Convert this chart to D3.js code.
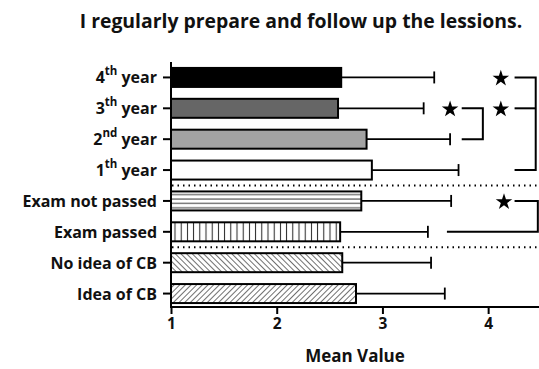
<!DOCTYPE html>
<html>
<head>
<meta charset="utf-8">
<script src="https://cdn.jsdelivr.net/npm/d3@7"></script>
<style>
  html, body { margin: 0; padding: 0; background: #fff; }
  svg { display: block; font-family: "Open Sans", Lato, sans-serif; font-weight: bold; }
</style>
</head>
<body>
<svg id="chart" width="539" height="369"></svg>
<script>
// Groups (top to bottom), with ordinal number and superscript suffix where used
const groups     = ["4th year", "3rd year", "2nd year", "1th year", "Exam not passed", "Exam passed", "No idea of CB", "Idea of CB"];
const labelMain  = ["4", "3", "2", "1", "Exam not passed", "Exam passed", "No idea of CB", "Idea of CB"];
const labelSup   = ["th", "th", "nd", "th", "", "", "", ""];
const labelTail  = [" year", " year", " year", " year", "", "", "", ""];
const means      = [2.61, 2.58, 2.85, 2.90, 2.80, 2.60, 2.62, 2.75];
const sds        = [0.88, 0.81, 0.79, 0.82, 0.85, 0.83, 0.84, 0.84];
const fills      = ["solid-black", "solid-dark", "solid-light", "solid-white", "hlines", "vlines", "diag-back", "diag-fwd"];
const xTicks     = [1, 2, 3, 4];
// Significance brackets: rows joined, bracket x extent, star position (in axis units)
const brackets   = [
  { from: 0, to: 3, x0: 4.25, x1: 4.45, star: 4.12 },
  { from: 1, to: 2, x0: 3.75, x1: 3.95, star: 3.64 },
  { from: 4, to: 5, x0: 4.25, x1: 4.47, star: 4.15, bottomStart: 3.61 }
];
const extraLinks = [ { row: 1, x0: 4.25, x1: 4.45, star: 4.12 } ];
const separators = [3.5, 5.5]; // between row indices

const svg = d3.select("#chart");
const W = 539, H = 369;

const x = d3.scaleLinear().domain([1, 4.5]).range([171, 541]);
const y = d3.scaleBand().domain(d3.range(groups.length)).range([62, 309]).paddingInner(0.32).paddingOuter(0.16);

// Hatch patterns
const defs = svg.append("defs");
const hp = defs.append("pattern").attr("id", "hlines").attr("patternUnits", "userSpaceOnUse")
  .attr("width", 8).attr("height", 4.4);
hp.append("rect").attr("width", 8).attr("height", 4.4).attr("fill", "#fff");
hp.append("line").attr("x1", 0).attr("x2", 8).attr("y1", 1).attr("y2", 1).attr("stroke", "#333").attr("stroke-width", 1);

const vp = defs.append("pattern").attr("id", "vlines").attr("patternUnits", "userSpaceOnUse")
  .attr("width", 6.2).attr("height", 8).attr("x", 171);
vp.append("rect").attr("width", 6.2).attr("height", 8).attr("fill", "#fff");
vp.append("line").attr("x1", 4).attr("x2", 4).attr("y1", 0).attr("y2", 8).attr("stroke", "#222").attr("stroke-width", 1);

function diag(id, angle) {
  const p = defs.append("pattern").attr("id", id).attr("patternUnits", "userSpaceOnUse")
    .attr("width", 4).attr("height", 4).attr("patternTransform", `rotate(${angle})`);
  p.append("rect").attr("width", 4).attr("height", 4).attr("fill", "#fff");
  p.append("line").attr("x1", 0).attr("x2", 0).attr("y1", 0).attr("y2", 4).attr("stroke", "#222").attr("stroke-width", 1.3);
}
diag("diag-back", -45);
diag("diag-fwd", 45);

const fillOf = f => ({
  "solid-black": "#000", "solid-dark": "#666", "solid-light": "#a3a3a3", "solid-white": "#fff"
}[f] || `url(#${f})`);

// Title
svg.append("text").attr("x", 301).attr("y", 28).attr("text-anchor", "middle")
  .attr("font-size", 19.4).attr("fill", "#111").text("I regularly prepare and follow up the lessions.");

// Dotted separators
separators.forEach(s => {
  const yy = y(Math.floor(s)) + y.bandwidth() + (y.step() - y.bandwidth()) / 2;
  svg.append("line").attr("x1", 172).attr("x2", W).attr("y1", yy).attr("y2", yy)
    .attr("stroke", "#000").attr("stroke-width", 2).attr("stroke-dasharray", "1.5,4");
});

// Error bars (upper whisker only)
const eb = svg.append("g").attr("stroke", "#000").attr("stroke-width", 1.8);
groups.forEach((g, i) => {
  const cy = y(i) + y.bandwidth() / 2;
  eb.append("line").attr("x1", x(means[i])).attr("x2", x(means[i] + sds[i])).attr("y1", cy).attr("y2", cy);
  eb.append("line").attr("x1", x(means[i] + sds[i])).attr("x2", x(means[i] + sds[i])).attr("y1", cy - 6).attr("y2", cy + 6);
});

// Bars
svg.append("g").selectAll("rect").data(groups).join("rect")
  .attr("x", x(1)).attr("y", (d, i) => y(i) + 1)
  .attr("width", (d, i) => x(means[i]) - x(1)).attr("height", y.bandwidth() - 2)
  .attr("fill", (d, i) => fillOf(fills[i]))
  .attr("stroke", "#000").attr("stroke-width", 2);

// Axes
const xAxis = svg.append("g").attr("transform", `translate(0,307)`)
  .call(d3.axisBottom(x).tickValues(xTicks).tickSize(7).tickFormat(d3.format("d")));
xAxis.select(".domain").attr("stroke-width", 2).attr("d", `M171,0H${W}`);
xAxis.selectAll(".tick line").attr("stroke-width", 2);
xAxis.selectAll(".tick text").attr("font-size", 15.5).attr("font-family", "'Open Sans', sans-serif")
  .attr("font-weight", "bold").attr("fill", "#111").attr("y", 22).attr("dy", 0);

const yAxis = svg.append("g").attr("transform", `translate(171,0)`)
  .call(d3.axisLeft(y).tickSize(8).tickFormat(""));
yAxis.select(".domain").attr("stroke-width", 2).attr("d", `M0,62V308`);
yAxis.selectAll(".tick line").attr("stroke-width", 2);

// Category labels with superscripts
groups.forEach((g, i) => {
  const cy = y(i) + y.bandwidth() / 2;
  const t = svg.append("text").attr("x", 157).attr("y", cy + 6).attr("text-anchor", "end")
    .attr("font-size", 16).attr("fill", "#111");
  t.append("tspan").text(labelMain[i]);
  if (labelSup[i]) {
    t.append("tspan").attr("font-size", 11.5).attr("dy", -8).text(labelSup[i]);
    t.append("tspan").attr("dy", 8).text(labelTail[i]);
  }
});

// Axis title
svg.append("text").attr("x", 355).attr("y", 362).attr("text-anchor", "middle")
  .attr("font-size", 17).attr("fill", "#111").text("Mean Value");

// Significance brackets and stars
const star = d3.symbol().type(d3.symbolStar).size(85);
const bg = svg.append("g").attr("fill", "none").attr("stroke", "#000").attr("stroke-width", 2);
const cyOf = i => y(i) + y.bandwidth() / 2;
brackets.forEach(b => {
  const y0 = cyOf(b.from), y1 = cyOf(b.to);
  const xb = b.bottomStart != null ? b.bottomStart : b.x0;
  bg.append("path").attr("d", `M${x(b.x0)},${y0}H${x(b.x1)}V${y1}H${x(xb)}`);
  svg.append("path").attr("d", star).attr("transform", `translate(${x(b.star)},${y0 + 1})`).attr("fill", "#000");
});
extraLinks.forEach(l => {
  const yy = cyOf(l.row);
  bg.append("path").attr("d", `M${x(l.x0)},${yy}H${x(l.x1)}`);
  svg.append("path").attr("d", star).attr("transform", `translate(${x(l.star)},${yy + 1})`).attr("fill", "#000");
});
</script>
</body>
</html>
